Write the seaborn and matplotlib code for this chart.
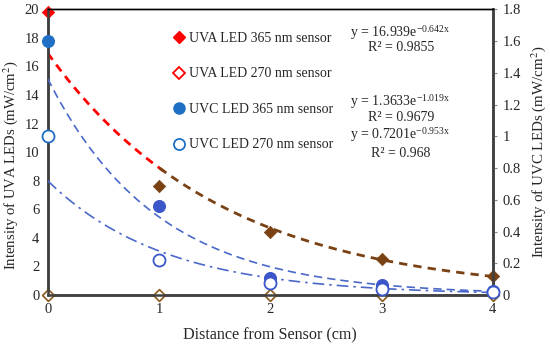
import numpy as np
import pandas as pd
import matplotlib
matplotlib.use("Agg")
import matplotlib.pyplot as plt
from matplotlib.lines import Line2D
import seaborn as sns

# measured points (left axis for UVA, right axis for UVC)
distance = [0, 1, 2, 3, 4]
uva_365 = [19.8, 7.6, 4.4, 2.5, 1.35]
uva_270 = [0, 0, 0, 0, 0]
uvc_365 = [1.60, 0.56, 0.108, 0.06, 0.027]
uvc_270 = [1.00, 0.22, 0.077, 0.04, 0.018]

# exponential trendline coefficients printed on the chart
fit_uva_365 = (16.939, -0.642)
fit_uvc_365 = (1.3633, -1.019)
fit_uvc_270 = (0.7201, -0.953)

left_ticks = list(range(0, 21, 2))
right_ticks = [0, 0.2, 0.4, 0.6, 0.8, 1.0, 1.2, 1.4, 1.6, 1.8]

sns.set_style("white")
plt.rcParams["font.family"] = ["Liberation Serif", "DejaVu Serif"]
plt.rcParams["mathtext.fontset"] = "stix"

fig = plt.figure(figsize=(5.5, 3.44), dpi=100)
ax = fig.add_axes([0.0867, 0.1424, 0.8093, 0.8306])
ax2 = ax.twinx()

RED = "#ff0000"
BROWN = "#7a4214"
BLUE0 = "#1f6fc4"
BLUE = "#3a56c8"
LINEBLUE = "#4a68c8"

# trendlines
xs = np.linspace(0, 4, 200)
t = pd.DataFrame({"x": xs,
                  "a": fit_uva_365[0] * np.exp(fit_uva_365[1] * xs),
                  "c1": fit_uvc_365[0] * np.exp(fit_uvc_365[1] * xs),
                  "c2": fit_uvc_270[0] * np.exp(fit_uvc_270[1] * xs)})
split = t["x"] <= 1.05
sns.lineplot(data=t[split], x="x", y="a", ax=ax, color=RED, lw=2.0,
             linestyle=(0, (3, 2.2)), zorder=3)
sns.lineplot(data=t[t["x"] >= 1.0], x="x", y="a", ax=ax, color=BROWN, lw=2.0,
             linestyle=(0, (3, 2.2)), zorder=3)
sns.lineplot(data=t, x="x", y="c1", ax=ax2, color=LINEBLUE, lw=1.2,
             linestyle=(0, (5, 3)), zorder=3)
sns.lineplot(data=t, x="x", y="c2", ax=ax2, color=LINEBLUE, lw=1.2,
             linestyle=(0, (7, 3, 1.5, 3)), zorder=3)

# points
d = pd.DataFrame({"x": distance, "uva365": uva_365, "uva270": uva_270,
                  "uvc365": uvc_365, "uvc270": uvc_270})
first, rest = d.iloc[:1], d.iloc[1:]
sns.scatterplot(data=first, x="x", y="uva365", ax=ax, marker="D", s=40,
                color=RED, edgecolor=RED, zorder=5, clip_on=False)
sns.scatterplot(data=rest, x="x", y="uva365", ax=ax, marker="D", s=40,
                color=BROWN, edgecolor=BROWN, zorder=5, clip_on=False)
sns.scatterplot(data=d, x="x", y="uva270", ax=ax, marker="D", s=36,
                facecolor="white", edgecolor="#8a5a1a", linewidth=1.2,
                zorder=5, clip_on=False)
sns.scatterplot(data=first, x="x", y="uvc365", ax=ax2, marker="o", s=75,
                color=BLUE0, edgecolor=BLUE0, zorder=5, clip_on=False)
sns.scatterplot(data=rest, x="x", y="uvc365", ax=ax2, marker="o", s=75,
                color=BLUE, edgecolor=BLUE, zorder=5, clip_on=False)
sns.scatterplot(data=first, x="x", y="uvc270", ax=ax2, marker="o", s=75,
                facecolor="white", edgecolor=BLUE0, linewidth=1.3, zorder=5, clip_on=False)
sns.scatterplot(data=rest, x="x", y="uvc270", ax=ax2, marker="o", s=75,
                facecolor="white", edgecolor=BLUE, linewidth=1.3, zorder=5, clip_on=False)

ax.set_xlim(0, 4)
ax.set_ylim(0, 20)
ax2.set_ylim(0, 1.8)
ax.set_xticks(distance)
ax.set_yticks(left_ticks)
ax2.set_yticks(right_ticks)
ax2.set_yticklabels([f"{v:g}" for v in right_ticks])

ax.set_xlabel("Distance from Sensor (cm)", fontsize=11.6, labelpad=8)
ax.set_ylabel("Intensity of UVA LEDs (mW/cm$^2$)", fontsize=10.6)
ax.yaxis.set_label_coords(-0.062, 0.455)
ax2.set_ylabel("Intensity of UVC LEDs (mW/cm$^2$)", fontsize=10.8, labelpad=6)

ax.tick_params(axis="both", labelsize=10.5, length=0, pad=6)
ax2.tick_params(axis="y", labelsize=10.5, length=3, color="#888888", pad=4)

for a in (ax, ax2):
    for side in ("left", "right", "bottom"):
        a.spines[side].set_color("#404040")
        a.spines[side].set_linewidth(1.8)
    a.spines["top"].set_color("black")
    a.spines["top"].set_linewidth(1.0)

handles = [
    Line2D([], [], ls="none", marker="D", ms=6, color=RED),
    Line2D([], [], ls="none", marker="D", ms=6, mfc="white", mec=RED, mew=1.3),
    Line2D([], [], ls="none", marker="o", ms=8, color=BLUE0),
    Line2D([], [], ls="none", marker="o", ms=8, mfc="white", mec=BLUE0, mew=1.3),
]
labels = ["UVA LED 365 nm sensor", "UVA LED 270 nm sensor",
          "UVC LED 365 nm sensor", "UVC LED 270 nm sensor"]
ax2.legend(handles, labels, loc="upper left", bbox_to_anchor=(0.2665, 0.945),
           frameon=False, fontsize=10, handlelength=0.8, handletextpad=0.3,
           labelspacing=1.62, borderpad=0)

eq_kw = dict(transform=ax.transAxes, ha="center", va="center", fontsize=10)
ax.text(0.792, 0.920, r"y = 16.939e$^{\mathregular{-0.642x}}$", **eq_kw)
ax.text(0.794, 0.866, "R² = 0.9855", **eq_kw)
ax.text(0.792, 0.676, r"y = 1.3633e$^{\mathregular{-1.019x}}$", **eq_kw)
ax.text(0.794, 0.620, "R² = 0.9679", **eq_kw)
ax.text(0.792, 0.560, r"y = 0.7201e$^{\mathregular{-0.953x}}$", **eq_kw)
ax.text(0.794, 0.497, "R² = 0.968", **eq_kw)

fig.savefig("out.png", dpi=100)
